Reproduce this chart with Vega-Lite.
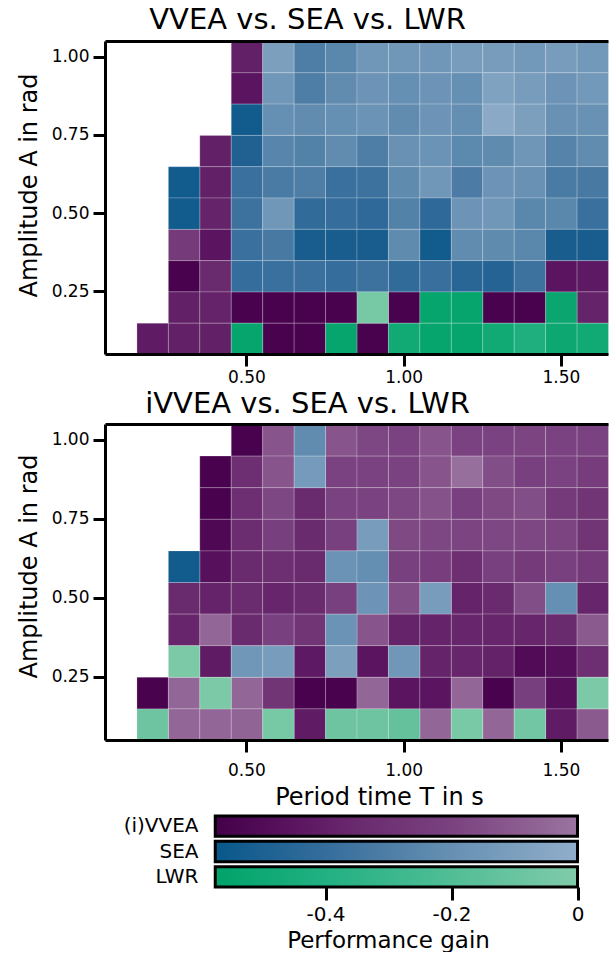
{
  "$schema": "https://vega.github.io/schema/vega-lite/v6.json",
  "padding": {"left": 17, "top": 6, "right": 0, "bottom": 0},
  "config": {
    "font": "DejaVu Sans",
    "view": {"stroke": null},
    "axis": {"domainColor": "black", "domainWidth": 3, "tickColor": "black", "tickWidth": 3, "tickSize": 12, "labelFontSize": 17, "labelColor": "black", "titleFontSize": 23, "titleFontWeight": "normal", "titleColor": "black", "grid": false, "labelFont": "DejaVu Sans", "titleFont": "DejaVu Sans"},
    "title": {"fontSize": 29, "fontWeight": "normal", "color": "black", "font": "DejaVu Sans"}
  },
  "datasets": {
    "cells": [
      {"panel":"top","A":1.0,"T":0.5,"method":"VVEA","gain":-0.4},{"panel":"top","A":1.0,"T":0.6,"method":"SEA","gain":-0.1},{"panel":"top","A":1.0,"T":0.7,"method":"SEA","gain":-0.3},{"panel":"top","A":1.0,"T":0.8,"method":"SEA","gain":-0.25},{"panel":"top","A":1.0,"T":0.9,"method":"SEA","gain":-0.15},{"panel":"top","A":1.0,"T":1.0,"method":"SEA","gain":-0.15},{"panel":"top","A":1.0,"T":1.1,"method":"SEA","gain":-0.15},{"panel":"top","A":1.0,"T":1.2,"method":"SEA","gain":-0.12},{"panel":"top","A":1.0,"T":1.3,"method":"SEA","gain":-0.12},{"panel":"top","A":1.0,"T":1.4,"method":"SEA","gain":-0.14},{"panel":"top","A":1.0,"T":1.5,"method":"SEA","gain":-0.12},{"panel":"top","A":1.0,"T":1.6,"method":"SEA","gain":-0.14},
      {"panel":"top","A":0.9,"T":0.5,"method":"VVEA","gain":-0.45},{"panel":"top","A":0.9,"T":0.6,"method":"SEA","gain":-0.15},{"panel":"top","A":0.9,"T":0.7,"method":"SEA","gain":-0.3},{"panel":"top","A":0.9,"T":0.8,"method":"SEA","gain":-0.22},{"panel":"top","A":0.9,"T":0.9,"method":"SEA","gain":-0.17},{"panel":"top","A":0.9,"T":1.0,"method":"SEA","gain":-0.2},{"panel":"top","A":0.9,"T":1.1,"method":"SEA","gain":-0.17},{"panel":"top","A":0.9,"T":1.2,"method":"SEA","gain":-0.2},{"panel":"top","A":0.9,"T":1.3,"method":"SEA","gain":-0.08},{"panel":"top","A":0.9,"T":1.4,"method":"SEA","gain":-0.12},{"panel":"top","A":0.9,"T":1.5,"method":"SEA","gain":-0.17},{"panel":"top","A":0.9,"T":1.6,"method":"SEA","gain":-0.14},
      {"panel":"top","A":0.8,"T":0.5,"method":"SEA","gain":-0.55},{"panel":"top","A":0.8,"T":0.6,"method":"SEA","gain":-0.2},{"panel":"top","A":0.8,"T":0.7,"method":"SEA","gain":-0.22},{"panel":"top","A":0.8,"T":0.8,"method":"SEA","gain":-0.2},{"panel":"top","A":0.8,"T":0.9,"method":"SEA","gain":-0.18},{"panel":"top","A":0.8,"T":1.0,"method":"SEA","gain":-0.22},{"panel":"top","A":0.8,"T":1.1,"method":"SEA","gain":-0.17},{"panel":"top","A":0.8,"T":1.2,"method":"SEA","gain":-0.21},{"panel":"top","A":0.8,"T":1.3,"method":"SEA","gain":-0.03},{"panel":"top","A":0.8,"T":1.4,"method":"SEA","gain":-0.1},{"panel":"top","A":0.8,"T":1.5,"method":"SEA","gain":-0.19},{"panel":"top","A":0.8,"T":1.6,"method":"SEA","gain":-0.19},
      {"panel":"top","A":0.7,"T":0.4,"method":"VVEA","gain":-0.4},{"panel":"top","A":0.7,"T":0.5,"method":"SEA","gain":-0.5},{"panel":"top","A":0.7,"T":0.6,"method":"SEA","gain":-0.26},{"panel":"top","A":0.7,"T":0.7,"method":"SEA","gain":-0.28},{"panel":"top","A":0.7,"T":0.8,"method":"SEA","gain":-0.22},{"panel":"top","A":0.7,"T":0.9,"method":"SEA","gain":-0.3},{"panel":"top","A":0.7,"T":1.0,"method":"SEA","gain":-0.19},{"panel":"top","A":0.7,"T":1.1,"method":"SEA","gain":-0.18},{"panel":"top","A":0.7,"T":1.2,"method":"SEA","gain":-0.24},{"panel":"top","A":0.7,"T":1.3,"method":"SEA","gain":-0.23},{"panel":"top","A":0.7,"T":1.4,"method":"SEA","gain":-0.16},{"panel":"top","A":0.7,"T":1.5,"method":"SEA","gain":-0.27},{"panel":"top","A":0.7,"T":1.6,"method":"SEA","gain":-0.22},
      {"panel":"top","A":0.6,"T":0.3,"method":"SEA","gain":-0.55},{"panel":"top","A":0.6,"T":0.4,"method":"VVEA","gain":-0.4},{"panel":"top","A":0.6,"T":0.5,"method":"SEA","gain":-0.38},{"panel":"top","A":0.6,"T":0.6,"method":"SEA","gain":-0.32},{"panel":"top","A":0.6,"T":0.7,"method":"SEA","gain":-0.3},{"panel":"top","A":0.6,"T":0.8,"method":"SEA","gain":-0.38},{"panel":"top","A":0.6,"T":0.9,"method":"SEA","gain":-0.37},{"panel":"top","A":0.6,"T":1.0,"method":"SEA","gain":-0.23},{"panel":"top","A":0.6,"T":1.1,"method":"SEA","gain":-0.15},{"panel":"top","A":0.6,"T":1.2,"method":"SEA","gain":-0.31},{"panel":"top","A":0.6,"T":1.3,"method":"SEA","gain":-0.17},{"panel":"top","A":0.6,"T":1.4,"method":"SEA","gain":-0.19},{"panel":"top","A":0.6,"T":1.5,"method":"SEA","gain":-0.32},{"panel":"top","A":0.6,"T":1.6,"method":"SEA","gain":-0.33},
      {"panel":"top","A":0.5,"T":0.3,"method":"SEA","gain":-0.55},{"panel":"top","A":0.5,"T":0.4,"method":"VVEA","gain":-0.38},{"panel":"top","A":0.5,"T":0.5,"method":"SEA","gain":-0.37},{"panel":"top","A":0.5,"T":0.6,"method":"SEA","gain":-0.15},{"panel":"top","A":0.5,"T":0.7,"method":"SEA","gain":-0.42},{"panel":"top","A":0.5,"T":0.8,"method":"SEA","gain":-0.4},{"panel":"top","A":0.5,"T":0.9,"method":"SEA","gain":-0.43},{"panel":"top","A":0.5,"T":1.0,"method":"SEA","gain":-0.28},{"panel":"top","A":0.5,"T":1.1,"method":"SEA","gain":-0.43},{"panel":"top","A":0.5,"T":1.2,"method":"SEA","gain":-0.17},{"panel":"top","A":0.5,"T":1.3,"method":"SEA","gain":-0.15},{"panel":"top","A":0.5,"T":1.4,"method":"SEA","gain":-0.25},{"panel":"top","A":0.5,"T":1.5,"method":"SEA","gain":-0.25},{"panel":"top","A":0.5,"T":1.6,"method":"SEA","gain":-0.38},
      {"panel":"top","A":0.4,"T":0.3,"method":"VVEA","gain":-0.25},{"panel":"top","A":0.4,"T":0.4,"method":"VVEA","gain":-0.45},{"panel":"top","A":0.4,"T":0.5,"method":"SEA","gain":-0.38},{"panel":"top","A":0.4,"T":0.6,"method":"SEA","gain":-0.33},{"panel":"top","A":0.4,"T":0.7,"method":"SEA","gain":-0.53},{"panel":"top","A":0.4,"T":0.8,"method":"SEA","gain":-0.53},{"panel":"top","A":0.4,"T":0.9,"method":"SEA","gain":-0.53},{"panel":"top","A":0.4,"T":1.0,"method":"SEA","gain":-0.23},{"panel":"top","A":0.4,"T":1.1,"method":"SEA","gain":-0.55},{"panel":"top","A":0.4,"T":1.2,"method":"SEA","gain":-0.22},{"panel":"top","A":0.4,"T":1.3,"method":"SEA","gain":-0.23},{"panel":"top","A":0.4,"T":1.4,"method":"SEA","gain":-0.25},{"panel":"top","A":0.4,"T":1.5,"method":"SEA","gain":-0.53},{"panel":"top","A":0.4,"T":1.6,"method":"SEA","gain":-0.53},
      {"panel":"top","A":0.3,"T":0.3,"method":"VVEA","gain":-0.55},{"panel":"top","A":0.3,"T":0.4,"method":"VVEA","gain":-0.35},{"panel":"top","A":0.3,"T":0.5,"method":"SEA","gain":-0.4},{"panel":"top","A":0.3,"T":0.6,"method":"SEA","gain":-0.38},{"panel":"top","A":0.3,"T":0.7,"method":"SEA","gain":-0.38},{"panel":"top","A":0.3,"T":0.8,"method":"SEA","gain":-0.4},{"panel":"top","A":0.3,"T":0.9,"method":"SEA","gain":-0.37},{"panel":"top","A":0.3,"T":1.0,"method":"SEA","gain":-0.42},{"panel":"top","A":0.3,"T":1.1,"method":"SEA","gain":-0.39},{"panel":"top","A":0.3,"T":1.2,"method":"SEA","gain":-0.46},{"panel":"top","A":0.3,"T":1.3,"method":"SEA","gain":-0.48},{"panel":"top","A":0.3,"T":1.4,"method":"SEA","gain":-0.37},{"panel":"top","A":0.3,"T":1.5,"method":"VVEA","gain":-0.45},{"panel":"top","A":0.3,"T":1.6,"method":"VVEA","gain":-0.43},
      {"panel":"top","A":0.2,"T":0.3,"method":"VVEA","gain":-0.4},{"panel":"top","A":0.2,"T":0.4,"method":"VVEA","gain":-0.38},{"panel":"top","A":0.2,"T":0.5,"method":"VVEA","gain":-0.55},{"panel":"top","A":0.2,"T":0.6,"method":"VVEA","gain":-0.55},{"panel":"top","A":0.2,"T":0.7,"method":"VVEA","gain":-0.55},{"panel":"top","A":0.2,"T":0.8,"method":"VVEA","gain":-0.55},{"panel":"top","A":0.2,"T":0.9,"method":"LWR","gain":-0.05},{"panel":"top","A":0.2,"T":1.0,"method":"VVEA","gain":-0.55},{"panel":"top","A":0.2,"T":1.1,"method":"LWR","gain":-0.55},{"panel":"top","A":0.2,"T":1.2,"method":"LWR","gain":-0.55},{"panel":"top","A":0.2,"T":1.3,"method":"VVEA","gain":-0.55},{"panel":"top","A":0.2,"T":1.4,"method":"VVEA","gain":-0.55},{"panel":"top","A":0.2,"T":1.5,"method":"LWR","gain":-0.53},{"panel":"top","A":0.2,"T":1.6,"method":"VVEA","gain":-0.38},
      {"panel":"top","A":0.1,"T":0.2,"method":"VVEA","gain":-0.42},{"panel":"top","A":0.1,"T":0.3,"method":"VVEA","gain":-0.4},{"panel":"top","A":0.1,"T":0.4,"method":"VVEA","gain":-0.4},{"panel":"top","A":0.1,"T":0.5,"method":"LWR","gain":-0.55},{"panel":"top","A":0.1,"T":0.6,"method":"VVEA","gain":-0.55},{"panel":"top","A":0.1,"T":0.7,"method":"VVEA","gain":-0.55},{"panel":"top","A":0.1,"T":0.8,"method":"LWR","gain":-0.55},{"panel":"top","A":0.1,"T":0.9,"method":"VVEA","gain":-0.55},{"panel":"top","A":0.1,"T":1.0,"method":"LWR","gain":-0.5},{"panel":"top","A":0.1,"T":1.1,"method":"LWR","gain":-0.55},{"panel":"top","A":0.1,"T":1.2,"method":"LWR","gain":-0.55},{"panel":"top","A":0.1,"T":1.3,"method":"LWR","gain":-0.5},{"panel":"top","A":0.1,"T":1.4,"method":"LWR","gain":-0.42},{"panel":"top","A":0.1,"T":1.5,"method":"LWR","gain":-0.52},{"panel":"top","A":0.1,"T":1.6,"method":"LWR","gain":-0.5},
      {"panel":"bottom","A":1.0,"T":0.5,"method":"VVEA","gain":-0.55},{"panel":"bottom","A":1.0,"T":0.6,"method":"VVEA","gain":-0.12},{"panel":"bottom","A":1.0,"T":0.7,"method":"SEA","gain":-0.22},{"panel":"bottom","A":1.0,"T":0.8,"method":"VVEA","gain":-0.12},{"panel":"bottom","A":1.0,"T":0.9,"method":"VVEA","gain":-0.18},{"panel":"bottom","A":1.0,"T":1.0,"method":"VVEA","gain":-0.2},{"panel":"bottom","A":1.0,"T":1.1,"method":"VVEA","gain":-0.12},{"panel":"bottom","A":1.0,"T":1.2,"method":"VVEA","gain":-0.2},{"panel":"bottom","A":1.0,"T":1.3,"method":"VVEA","gain":-0.2},{"panel":"bottom","A":1.0,"T":1.4,"method":"VVEA","gain":-0.19},{"panel":"bottom","A":1.0,"T":1.5,"method":"VVEA","gain":-0.2},{"panel":"bottom","A":1.0,"T":1.6,"method":"VVEA","gain":-0.2},
      {"panel":"bottom","A":0.9,"T":0.4,"method":"VVEA","gain":-0.55},{"panel":"bottom","A":0.9,"T":0.5,"method":"VVEA","gain":-0.32},{"panel":"bottom","A":0.9,"T":0.6,"method":"VVEA","gain":-0.12},{"panel":"bottom","A":0.9,"T":0.7,"method":"SEA","gain":-0.13},{"panel":"bottom","A":0.9,"T":0.8,"method":"VVEA","gain":-0.2},{"panel":"bottom","A":0.9,"T":0.9,"method":"VVEA","gain":-0.2},{"panel":"bottom","A":0.9,"T":1.0,"method":"VVEA","gain":-0.2},{"panel":"bottom","A":0.9,"T":1.1,"method":"VVEA","gain":-0.12},{"panel":"bottom","A":0.9,"T":1.2,"method":"VVEA","gain":-0.02},{"panel":"bottom","A":0.9,"T":1.3,"method":"VVEA","gain":-0.15},{"panel":"bottom","A":0.9,"T":1.4,"method":"VVEA","gain":-0.21},{"panel":"bottom","A":0.9,"T":1.5,"method":"VVEA","gain":-0.2},{"panel":"bottom","A":0.9,"T":1.6,"method":"VVEA","gain":-0.24},
      {"panel":"bottom","A":0.8,"T":0.4,"method":"VVEA","gain":-0.55},{"panel":"bottom","A":0.8,"T":0.5,"method":"VVEA","gain":-0.32},{"panel":"bottom","A":0.8,"T":0.6,"method":"VVEA","gain":-0.18},{"panel":"bottom","A":0.8,"T":0.7,"method":"VVEA","gain":-0.35},{"panel":"bottom","A":0.8,"T":0.8,"method":"VVEA","gain":-0.2},{"panel":"bottom","A":0.8,"T":0.9,"method":"VVEA","gain":-0.2},{"panel":"bottom","A":0.8,"T":1.0,"method":"VVEA","gain":-0.18},{"panel":"bottom","A":0.8,"T":1.1,"method":"VVEA","gain":-0.13},{"panel":"bottom","A":0.8,"T":1.2,"method":"VVEA","gain":-0.21},{"panel":"bottom","A":0.8,"T":1.3,"method":"VVEA","gain":-0.17},{"panel":"bottom","A":0.8,"T":1.4,"method":"VVEA","gain":-0.15},{"panel":"bottom","A":0.8,"T":1.5,"method":"VVEA","gain":-0.25},{"panel":"bottom","A":0.8,"T":1.6,"method":"VVEA","gain":-0.28},
      {"panel":"bottom","A":0.7,"T":0.4,"method":"VVEA","gain":-0.52},{"panel":"bottom","A":0.7,"T":0.5,"method":"VVEA","gain":-0.33},{"panel":"bottom","A":0.7,"T":0.6,"method":"VVEA","gain":-0.22},{"panel":"bottom","A":0.7,"T":0.7,"method":"VVEA","gain":-0.35},{"panel":"bottom","A":0.7,"T":0.8,"method":"VVEA","gain":-0.21},{"panel":"bottom","A":0.7,"T":0.9,"method":"SEA","gain":-0.12},{"panel":"bottom","A":0.7,"T":1.0,"method":"VVEA","gain":-0.17},{"panel":"bottom","A":0.7,"T":1.1,"method":"VVEA","gain":-0.18},{"panel":"bottom","A":0.7,"T":1.2,"method":"VVEA","gain":-0.19},{"panel":"bottom","A":0.7,"T":1.3,"method":"VVEA","gain":-0.18},{"panel":"bottom","A":0.7,"T":1.4,"method":"VVEA","gain":-0.18},{"panel":"bottom","A":0.7,"T":1.5,"method":"VVEA","gain":-0.19},{"panel":"bottom","A":0.7,"T":1.6,"method":"VVEA","gain":-0.28},
      {"panel":"bottom","A":0.6,"T":0.3,"method":"SEA","gain":-0.55},{"panel":"bottom","A":0.6,"T":0.4,"method":"VVEA","gain":-0.47},{"panel":"bottom","A":0.6,"T":0.5,"method":"VVEA","gain":-0.35},{"panel":"bottom","A":0.6,"T":0.6,"method":"VVEA","gain":-0.32},{"panel":"bottom","A":0.6,"T":0.7,"method":"VVEA","gain":-0.35},{"panel":"bottom","A":0.6,"T":0.8,"method":"SEA","gain":-0.18},{"panel":"bottom","A":0.6,"T":0.9,"method":"SEA","gain":-0.21},{"panel":"bottom","A":0.6,"T":1.0,"method":"VVEA","gain":-0.21},{"panel":"bottom","A":0.6,"T":1.1,"method":"VVEA","gain":-0.23},{"panel":"bottom","A":0.6,"T":1.2,"method":"VVEA","gain":-0.32},{"panel":"bottom","A":0.6,"T":1.3,"method":"VVEA","gain":-0.21},{"panel":"bottom","A":0.6,"T":1.4,"method":"VVEA","gain":-0.25},{"panel":"bottom","A":0.6,"T":1.5,"method":"VVEA","gain":-0.21},{"panel":"bottom","A":0.6,"T":1.6,"method":"VVEA","gain":-0.25},
      {"panel":"bottom","A":0.5,"T":0.3,"method":"VVEA","gain":-0.35},{"panel":"bottom","A":0.5,"T":0.4,"method":"VVEA","gain":-0.38},{"panel":"bottom","A":0.5,"T":0.5,"method":"VVEA","gain":-0.34},{"panel":"bottom","A":0.5,"T":0.6,"method":"VVEA","gain":-0.37},{"panel":"bottom","A":0.5,"T":0.7,"method":"VVEA","gain":-0.35},{"panel":"bottom","A":0.5,"T":0.8,"method":"VVEA","gain":-0.21},{"panel":"bottom","A":0.5,"T":0.9,"method":"SEA","gain":-0.17},{"panel":"bottom","A":0.5,"T":1.0,"method":"VVEA","gain":-0.15},{"panel":"bottom","A":0.5,"T":1.1,"method":"SEA","gain":-0.12},{"panel":"bottom","A":0.5,"T":1.2,"method":"VVEA","gain":-0.38},{"panel":"bottom","A":0.5,"T":1.3,"method":"VVEA","gain":-0.35},{"panel":"bottom","A":0.5,"T":1.4,"method":"VVEA","gain":-0.15},{"panel":"bottom","A":0.5,"T":1.5,"method":"SEA","gain":-0.2},{"panel":"bottom","A":0.5,"T":1.6,"method":"VVEA","gain":-0.37},
      {"panel":"bottom","A":0.4,"T":0.3,"method":"VVEA","gain":-0.37},{"panel":"bottom","A":0.4,"T":0.4,"method":"VVEA","gain":-0.05},{"panel":"bottom","A":0.4,"T":0.5,"method":"VVEA","gain":-0.35},{"panel":"bottom","A":0.4,"T":0.6,"method":"VVEA","gain":-0.21},{"panel":"bottom","A":0.4,"T":0.7,"method":"VVEA","gain":-0.28},{"panel":"bottom","A":0.4,"T":0.8,"method":"SEA","gain":-0.18},{"panel":"bottom","A":0.4,"T":0.9,"method":"VVEA","gain":-0.12},{"panel":"bottom","A":0.4,"T":1.0,"method":"VVEA","gain":-0.38},{"panel":"bottom","A":0.4,"T":1.1,"method":"VVEA","gain":-0.38},{"panel":"bottom","A":0.4,"T":1.2,"method":"VVEA","gain":-0.37},{"panel":"bottom","A":0.4,"T":1.3,"method":"VVEA","gain":-0.37},{"panel":"bottom","A":0.4,"T":1.4,"method":"VVEA","gain":-0.37},{"panel":"bottom","A":0.4,"T":1.5,"method":"VVEA","gain":-0.35},{"panel":"bottom","A":0.4,"T":1.6,"method":"VVEA","gain":-0.1},
      {"panel":"bottom","A":0.3,"T":0.3,"method":"LWR","gain":-0.03},{"panel":"bottom","A":0.3,"T":0.4,"method":"VVEA","gain":-0.42},{"panel":"bottom","A":0.3,"T":0.5,"method":"SEA","gain":-0.15},{"panel":"bottom","A":0.3,"T":0.6,"method":"SEA","gain":-0.12},{"panel":"bottom","A":0.3,"T":0.7,"method":"VVEA","gain":-0.43},{"panel":"bottom","A":0.3,"T":0.8,"method":"SEA","gain":-0.1},{"panel":"bottom","A":0.3,"T":0.9,"method":"VVEA","gain":-0.45},{"panel":"bottom","A":0.3,"T":1.0,"method":"SEA","gain":-0.15},{"panel":"bottom","A":0.3,"T":1.1,"method":"VVEA","gain":-0.38},{"panel":"bottom","A":0.3,"T":1.2,"method":"VVEA","gain":-0.37},{"panel":"bottom","A":0.3,"T":1.3,"method":"VVEA","gain":-0.39},{"panel":"bottom","A":0.3,"T":1.4,"method":"VVEA","gain":-0.5},{"panel":"bottom","A":0.3,"T":1.5,"method":"VVEA","gain":-0.48},{"panel":"bottom","A":0.3,"T":1.6,"method":"VVEA","gain":-0.32},
      {"panel":"bottom","A":0.2,"T":0.2,"method":"VVEA","gain":-0.55},{"panel":"bottom","A":0.2,"T":0.3,"method":"VVEA","gain":-0.05},{"panel":"bottom","A":0.2,"T":0.4,"method":"LWR","gain":-0.03},{"panel":"bottom","A":0.2,"T":0.5,"method":"VVEA","gain":-0.05},{"panel":"bottom","A":0.2,"T":0.6,"method":"VVEA","gain":-0.28},{"panel":"bottom","A":0.2,"T":0.7,"method":"VVEA","gain":-0.55},{"panel":"bottom","A":0.2,"T":0.8,"method":"VVEA","gain":-0.55},{"panel":"bottom","A":0.2,"T":0.9,"method":"VVEA","gain":-0.05},{"panel":"bottom","A":0.2,"T":1.0,"method":"VVEA","gain":-0.45},{"panel":"bottom","A":0.2,"T":1.1,"method":"VVEA","gain":-0.45},{"panel":"bottom","A":0.2,"T":1.2,"method":"VVEA","gain":-0.05},{"panel":"bottom","A":0.2,"T":1.3,"method":"VVEA","gain":-0.55},{"panel":"bottom","A":0.2,"T":1.4,"method":"VVEA","gain":-0.22},{"panel":"bottom","A":0.2,"T":1.5,"method":"VVEA","gain":-0.48},{"panel":"bottom","A":0.2,"T":1.6,"method":"LWR","gain":-0.03},
      {"panel":"bottom","A":0.1,"T":0.2,"method":"LWR","gain":-0.1},{"panel":"bottom","A":0.1,"T":0.3,"method":"VVEA","gain":-0.05},{"panel":"bottom","A":0.1,"T":0.4,"method":"VVEA","gain":-0.05},{"panel":"bottom","A":0.1,"T":0.5,"method":"VVEA","gain":-0.06},{"panel":"bottom","A":0.1,"T":0.6,"method":"LWR","gain":-0.05},{"panel":"bottom","A":0.1,"T":0.7,"method":"VVEA","gain":-0.42},{"panel":"bottom","A":0.1,"T":0.8,"method":"LWR","gain":-0.1},{"panel":"bottom","A":0.1,"T":0.9,"method":"LWR","gain":-0.1},{"panel":"bottom","A":0.1,"T":1.0,"method":"LWR","gain":-0.15},{"panel":"bottom","A":0.1,"T":1.1,"method":"VVEA","gain":-0.05},{"panel":"bottom","A":0.1,"T":1.2,"method":"LWR","gain":-0.04},{"panel":"bottom","A":0.1,"T":1.3,"method":"VVEA","gain":-0.05},{"panel":"bottom","A":0.1,"T":1.4,"method":"LWR","gain":-0.07},{"panel":"bottom","A":0.1,"T":1.5,"method":"VVEA","gain":-0.42},{"panel":"bottom","A":0.1,"T":1.6,"method":"VVEA","gain":-0.1}
    ],
    "bars": [
      {"method": "(i)VVEA", "lo": -0.575, "hi": 0},
      {"method": "SEA", "lo": -0.575, "hi": 0},
      {"method": "LWR", "lo": -0.575, "hi": 0}
    ]
  },
  "spacing": 5,
  "resolve": {"scale": {"color": "independent"}},
  "vconcat": [
    {
      "title": {"text": "VVEA vs. SEA vs. LWR", "anchor": "middle", "frame": "group", "dx": -49, "offset": 6},
      "width": 503, "height": 313,
      "data": {"name": "cells"},
      "transform": [{"filter": "datum.panel === 'top'"}],
      "resolve": {"scale": {"color": "independent"}, "axis": {"x": "independent", "y": "independent"}},
      "layer": [
        {
          "transform": [{"filter": "datum.method === 'VVEA'"}],
          "mark": {"type": "rect", "stroke": "white", "strokeWidth": 0.6, "strokeOpacity": 0.35},
          "encoding": {
            "x": {"field": "T", "type": "quantitative", "bin": {"step": 0.1, "anchor": 0.05, "extent": [0.05, 1.65], "nice": false}, "scale": {"domain": [0.05, 1.65], "nice": false, "zero": false}, "axis": {"values": [0.5, 1.0, 1.5], "labelExpr": "format(datum.value, '.2f')", "title": null, "labelPadding": 3}},
            "y": {"field": "A", "type": "quantitative", "bin": {"step": 0.1, "anchor": 0.05, "extent": [0.05, 1.05], "nice": false}, "scale": {"domain": [0.05, 1.05], "nice": false, "zero": false}, "axis": {"values": [0.25, 0.5, 0.75, 1.0], "labelExpr": "format(datum.value, '.2f')", "title": "Amplitude A in rad", "titleFontSize": 24, "titleY": 144, "labelPadding": 4, "titlePadding": 10}},
            "color": {"field": "gain", "type": "quantitative", "legend": null, "scale": {"domain": [-0.575, -0.45, -0.35, -0.2, -0.1, 0], "range": ["#45004a", "#5a1460", "#6a2a6e", "#7a4280", "#8a5a8e", "#9a74a0"]}}
          }
        },
        {
          "transform": [{"filter": "datum.method === 'SEA'"}],
          "mark": {"type": "rect", "stroke": "white", "strokeWidth": 0.6, "strokeOpacity": 0.35},
          "encoding": {
            "x": {"field": "T", "type": "quantitative", "bin": {"step": 0.1, "anchor": 0.05, "extent": [0.05, 1.65], "nice": false}, "scale": {"domain": [0.05, 1.65], "nice": false, "zero": false}, "axis": {"orient": "top", "labels": false, "ticks": false, "title": null}},
            "y": {"field": "A", "type": "quantitative", "bin": {"step": 0.1, "anchor": 0.05, "extent": [0.05, 1.05], "nice": false}, "scale": {"domain": [0.05, 1.05], "nice": false, "zero": false}, "axis": null},
            "color": {"field": "gain", "type": "quantitative", "legend": null, "scale": {"domain": [-0.575, -0.4, -0.3, -0.2, -0.1, 0], "range": ["#08588a", "#356d9c", "#4e7ea6", "#6690b3", "#7c9fbe", "#90aecb"]}}
          }
        },
        {
          "transform": [{"filter": "datum.method === 'LWR'"}],
          "mark": {"type": "rect", "stroke": "white", "strokeWidth": 0.6, "strokeOpacity": 0.35},
          "encoding": {
            "x": {"field": "T", "type": "quantitative", "bin": {"step": 0.1, "anchor": 0.05, "extent": [0.05, 1.65], "nice": false}, "scale": {"domain": [0.05, 1.65], "nice": false, "zero": false}, "axis": null},
            "y": {"field": "A", "type": "quantitative", "bin": {"step": 0.1, "anchor": 0.05, "extent": [0.05, 1.05], "nice": false}, "scale": {"domain": [0.05, 1.05], "nice": false, "zero": false}, "axis": null},
            "color": {"field": "gain", "type": "quantitative", "legend": null, "scale": {"domain": [-0.575, -0.4, 0], "range": ["#00a36a", "#22b082", "#80cbaa"]}}
          }
        }
      ]
    },
    {
      "title": {"text": "iVVEA vs. SEA vs. LWR", "anchor": "middle", "frame": "group", "dx": -49, "offset": 5},
      "width": 503, "height": 316,
      "data": {"name": "cells"},
      "transform": [{"filter": "datum.panel === 'bottom'"}],
      "resolve": {"scale": {"color": "independent"}, "axis": {"x": "independent", "y": "independent"}},
      "layer": [
        {
          "transform": [{"filter": "datum.method === 'VVEA'"}],
          "mark": {"type": "rect", "stroke": "white", "strokeWidth": 0.6, "strokeOpacity": 0.35},
          "encoding": {
            "x": {"field": "T", "type": "quantitative", "bin": {"step": 0.1, "anchor": 0.05, "extent": [0.05, 1.65], "nice": false}, "scale": {"domain": [0.05, 1.65], "nice": false, "zero": false}, "axis": {"values": [0.5, 1.0, 1.5], "labelExpr": "format(datum.value, '.2f')", "title": "Period time T in s", "titleFontSize": 24, "titleX": 274, "labelPadding": 10, "titlePadding": 7}},
            "y": {"field": "A", "type": "quantitative", "bin": {"step": 0.1, "anchor": 0.05, "extent": [0.05, 1.05], "nice": false}, "scale": {"domain": [0.05, 1.05], "nice": false, "zero": false}, "axis": {"values": [0.25, 0.5, 0.75, 1.0], "labelExpr": "format(datum.value, '.2f')", "title": "Amplitude A in rad", "titleFontSize": 24, "titleY": 142, "labelPadding": 4, "titlePadding": 10}},
            "color": {"field": "gain", "type": "quantitative", "legend": null, "scale": {"domain": [-0.575, -0.45, -0.35, -0.2, -0.1, 0], "range": ["#45004a", "#5a1460", "#6a2a6e", "#7a4280", "#8a5a8e", "#9a74a0"]}}
          }
        },
        {
          "transform": [{"filter": "datum.method === 'SEA'"}],
          "mark": {"type": "rect", "stroke": "white", "strokeWidth": 0.6, "strokeOpacity": 0.35},
          "encoding": {
            "x": {"field": "T", "type": "quantitative", "bin": {"step": 0.1, "anchor": 0.05, "extent": [0.05, 1.65], "nice": false}, "scale": {"domain": [0.05, 1.65], "nice": false, "zero": false}, "axis": {"orient": "top", "labels": false, "ticks": false, "title": null}},
            "y": {"field": "A", "type": "quantitative", "bin": {"step": 0.1, "anchor": 0.05, "extent": [0.05, 1.05], "nice": false}, "scale": {"domain": [0.05, 1.05], "nice": false, "zero": false}, "axis": null},
            "color": {"field": "gain", "type": "quantitative", "legend": null, "scale": {"domain": [-0.575, -0.4, -0.3, -0.2, -0.1, 0], "range": ["#08588a", "#356d9c", "#4e7ea6", "#6690b3", "#7c9fbe", "#90aecb"]}}
          }
        },
        {
          "transform": [{"filter": "datum.method === 'LWR'"}],
          "mark": {"type": "rect", "stroke": "white", "strokeWidth": 0.6, "strokeOpacity": 0.35},
          "encoding": {
            "x": {"field": "T", "type": "quantitative", "bin": {"step": 0.1, "anchor": 0.05, "extent": [0.05, 1.65], "nice": false}, "scale": {"domain": [0.05, 1.65], "nice": false, "zero": false}, "axis": null},
            "y": {"field": "A", "type": "quantitative", "bin": {"step": 0.1, "anchor": 0.05, "extent": [0.05, 1.05], "nice": false}, "scale": {"domain": [0.05, 1.05], "nice": false, "zero": false}, "axis": null},
            "color": {"field": "gain", "type": "quantitative", "legend": null, "scale": {"domain": [-0.575, -0.4, 0], "range": ["#00a36a", "#22b082", "#80cbaa"]}}
          }
        }
      ]
    },
    {
      "width": 503, "height": 71,
      "data": {"name": "bars"},
      "encoding": {
        "x": {"field": "lo", "type": "quantitative", "scale": {"domain": [-0.75, 0.0484], "nice": false, "zero": false}, "axis": {"values": [-0.4, -0.2, 0], "labelExpr": "datum.value === 0 ? '0' : '' + datum.value", "domain": false, "tickSize": 13, "labelFontSize": 20, "labelPadding": 4, "title": "Performance gain", "titleX": 283, "titlePadding": 5}},
        "x2": {"field": "hi"},
        "y": {"field": "method", "type": "nominal", "sort": null, "scale": {"paddingInner": 0.2, "paddingOuter": 0}, "axis": {"title": null, "domain": false, "ticks": false, "tickSize": 0, "offset": -110, "labelPadding": 17, "labelFontSize": 20}}
      },
      "layer": [
        {"transform": [{"filter": "datum.method === '(i)VVEA'"}], "mark": {"type": "rect", "stroke": "black", "strokeWidth": 3, "fill": {"gradient": "linear", "x1": 0, "x2": 1, "y1": 0, "y2": 0, "stops": [{"offset": 0, "color": "#45004a"}, {"offset": 0.217, "color": "#5a1460"}, {"offset": 0.391, "color": "#6a2a6e"}, {"offset": 0.652, "color": "#7a4280"}, {"offset": 0.826, "color": "#8a5a8e"}, {"offset": 1, "color": "#9a74a0"}]}}},
        {"transform": [{"filter": "datum.method === 'SEA'"}], "mark": {"type": "rect", "stroke": "black", "strokeWidth": 3, "fill": {"gradient": "linear", "x1": 0, "x2": 1, "y1": 0, "y2": 0, "stops": [{"offset": 0, "color": "#08588a"}, {"offset": 0.304, "color": "#356d9c"}, {"offset": 0.478, "color": "#4e7ea6"}, {"offset": 0.652, "color": "#6690b3"}, {"offset": 0.826, "color": "#7c9fbe"}, {"offset": 1, "color": "#90aecb"}]}}},
        {"transform": [{"filter": "datum.method === 'LWR'"}], "mark": {"type": "rect", "stroke": "black", "strokeWidth": 3, "fill": {"gradient": "linear", "x1": 0, "x2": 1, "y1": 0, "y2": 0, "stops": [{"offset": 0, "color": "#00a36a"}, {"offset": 0.304, "color": "#22b082"}, {"offset": 1, "color": "#80cbaa"}]}}}
      ]
    }
  ]
}
